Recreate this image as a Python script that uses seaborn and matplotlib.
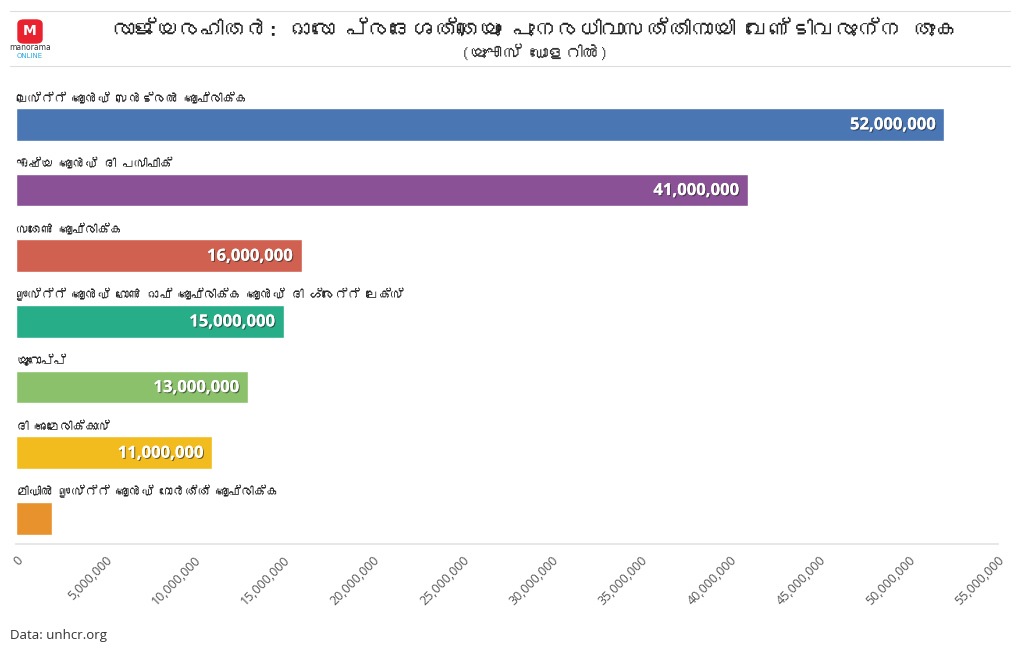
import matplotlib
matplotlib.use("Agg")
import matplotlib.pyplot as plt
import matplotlib.patheffects as pe
from matplotlib.patches import FancyBboxPatch
from matplotlib.ticker import FuncFormatter
from matplotlib import font_manager
from matplotlib.ft2font import FT2Font
import seaborn as sns
import pandas as pd

# data (UNHCR appeal per region, USD)
regions = [
    "വെസ്റ്റ് ആൻഡ് സെൻട്രൽ ആഫ്രിക്ക",
    "ഏഷ്യ ആൻഡ് ദി പസിഫിക്",
    "സതേൺ ആഫ്രിക്ക",
    "ഈസ്റ്റ് ആൻഡ് ഹോൺ ഓഫ് ആഫ്രിക്ക ആൻഡ് ദി ഗ്രേറ്റ് ലേക്സ്",
    "യൂറോപ്പ്",
    "ദി അമേരിക്കാസ്",
    "മിഡിൽ ഈസ്റ്റ് ആൻഡ് നോർത്ത് ആഫ്രിക്ക",
]
amounts = [52000000, 41000000, 16000000, 15000000, 13000000, 11000000, 2000000]
colors = ["#4A76B4", "#8A5196", "#D06150", "#27AD87", "#8BC16A", "#F2BC1E", "#E8922E"]
x_ticks = list(range(0, 55000001, 5000000))

title = "രാജ്യരഹിതർ: ഓരോ പ്രദേശത്തെയും പുനരധിവാസത്തിനായി വേണ്ടിവരുന്ന തുക"
subtitle = "(യുഎസ് ഡോളറിൽ)"
source = "Data: unhcr.org"

# look for an installed font that can draw Malayalam
ml_font = None
for f in font_manager.fontManager.ttflist:
    try:
        if 0x0D30 in FT2Font(f.fname).get_charmap():
            ml_font = f.name
            break
    except Exception:
        pass

sns.set_theme(style="white")
fams = ([ml_font] if ml_font else []) + ["Open Sans", "DejaVu Sans"]
plt.rcParams["font.family"] = fams

df = pd.DataFrame({"region": regions, "amount": amounts})

fig = plt.figure(figsize=(10.2, 6.54), dpi=100)
ax = fig.add_axes([16 / 1020, 1 - 544 / 654, 982 / 1020, 459 / 654])

sns.barplot(data=df, x="amount", y="region", hue="region", palette=colors,
            orient="h", width=0.5, legend=False, ax=ax, saturation=1)

ax.set_xlim(0, 55000000)
ax.set_ylim(6.39, -0.6)
ax.set_ylabel("")
ax.set_xlabel("")
ax.set_yticks([])
ax.set_xticks(x_ticks)
ax.xaxis.set_major_formatter(FuncFormatter(lambda v, p: f"{int(v):,}"))
plt.setp(ax.get_xticklabels(), rotation=45, ha="right", rotation_mode="anchor",
         color="#555555", fontsize=9, family=["Open Sans", "DejaVu Sans"])
ax.tick_params(axis="x", length=4, color="#dddddd", pad=3)

for s in ["top", "right", "left"]:
    ax.spines[s].set_visible(False)
ax.spines["bottom"].set_color("#e4e4e4")

# category labels above bars and values inside bars
for i, (r, v) in enumerate(zip(regions, amounts)):
    ax.text(0, i - 0.31, r, ha="left", va="bottom", fontsize=9,
            fontweight="bold", color="#222222")
    if v >= 5000000:
        ax.text(v - 500000, i, f"{v:,}", ha="right", va="center",
                fontsize=12, fontweight="bold", color="white",
                family=["Open Sans", "DejaVu Sans"],
                path_effects=[pe.withSimplePatchShadow(offset=(0.8, -0.8),
                                                       shadow_rgbFace="#222222", alpha=0.6),
                              pe.Normal()])

# header
fig.add_artist(plt.Line2D([10 / 1020, 1010 / 1020], [1 - 11 / 654] * 2,
                          color="#dddddd", lw=0.8))
fig.add_artist(plt.Line2D([10 / 1020, 1010 / 1020], [1 - 66 / 654] * 2,
                          color="#dddddd", lw=0.8))
fig.text(535 / 1020, 1 - 30 / 654, title, ha="center", va="center",
         fontsize=16, fontweight="bold", color="#222222")
fig.text(535 / 1020, 1 - 52 / 654, subtitle, ha="center", va="center",
         fontsize=12.5, color="#333333")

# logo
fig.add_artist(FancyBboxPatch((18 / 1020, 1 - 43 / 654), 24 / 1020, 23 / 654,
                              boxstyle="round,pad=0,rounding_size=0.006",
                              transform=fig.transFigure, color="#E8222E"))
fig.text(30 / 1020, 1 - 31 / 654, "M", ha="center", va="center", fontsize=10,
         fontweight="bold", color="white", family=["DejaVu Sans"])
fig.text(30 / 1020, 1 - 48 / 654, "manorama", ha="center", va="center",
         fontsize=5.5, color="#333333", family=["DejaVu Sans"])
fig.text(30 / 1020, 1 - 56 / 654, "ONLINE", ha="center", va="center",
         fontsize=5, color="#29a8e0", family=["DejaVu Sans"])

fig.text(10 / 1020, 1 - 635 / 654, source, ha="left", va="center",
         fontsize=9.5, color="#333333", family=["Open Sans", "DejaVu Sans"])

fig.savefig("out.png", dpi=100)
